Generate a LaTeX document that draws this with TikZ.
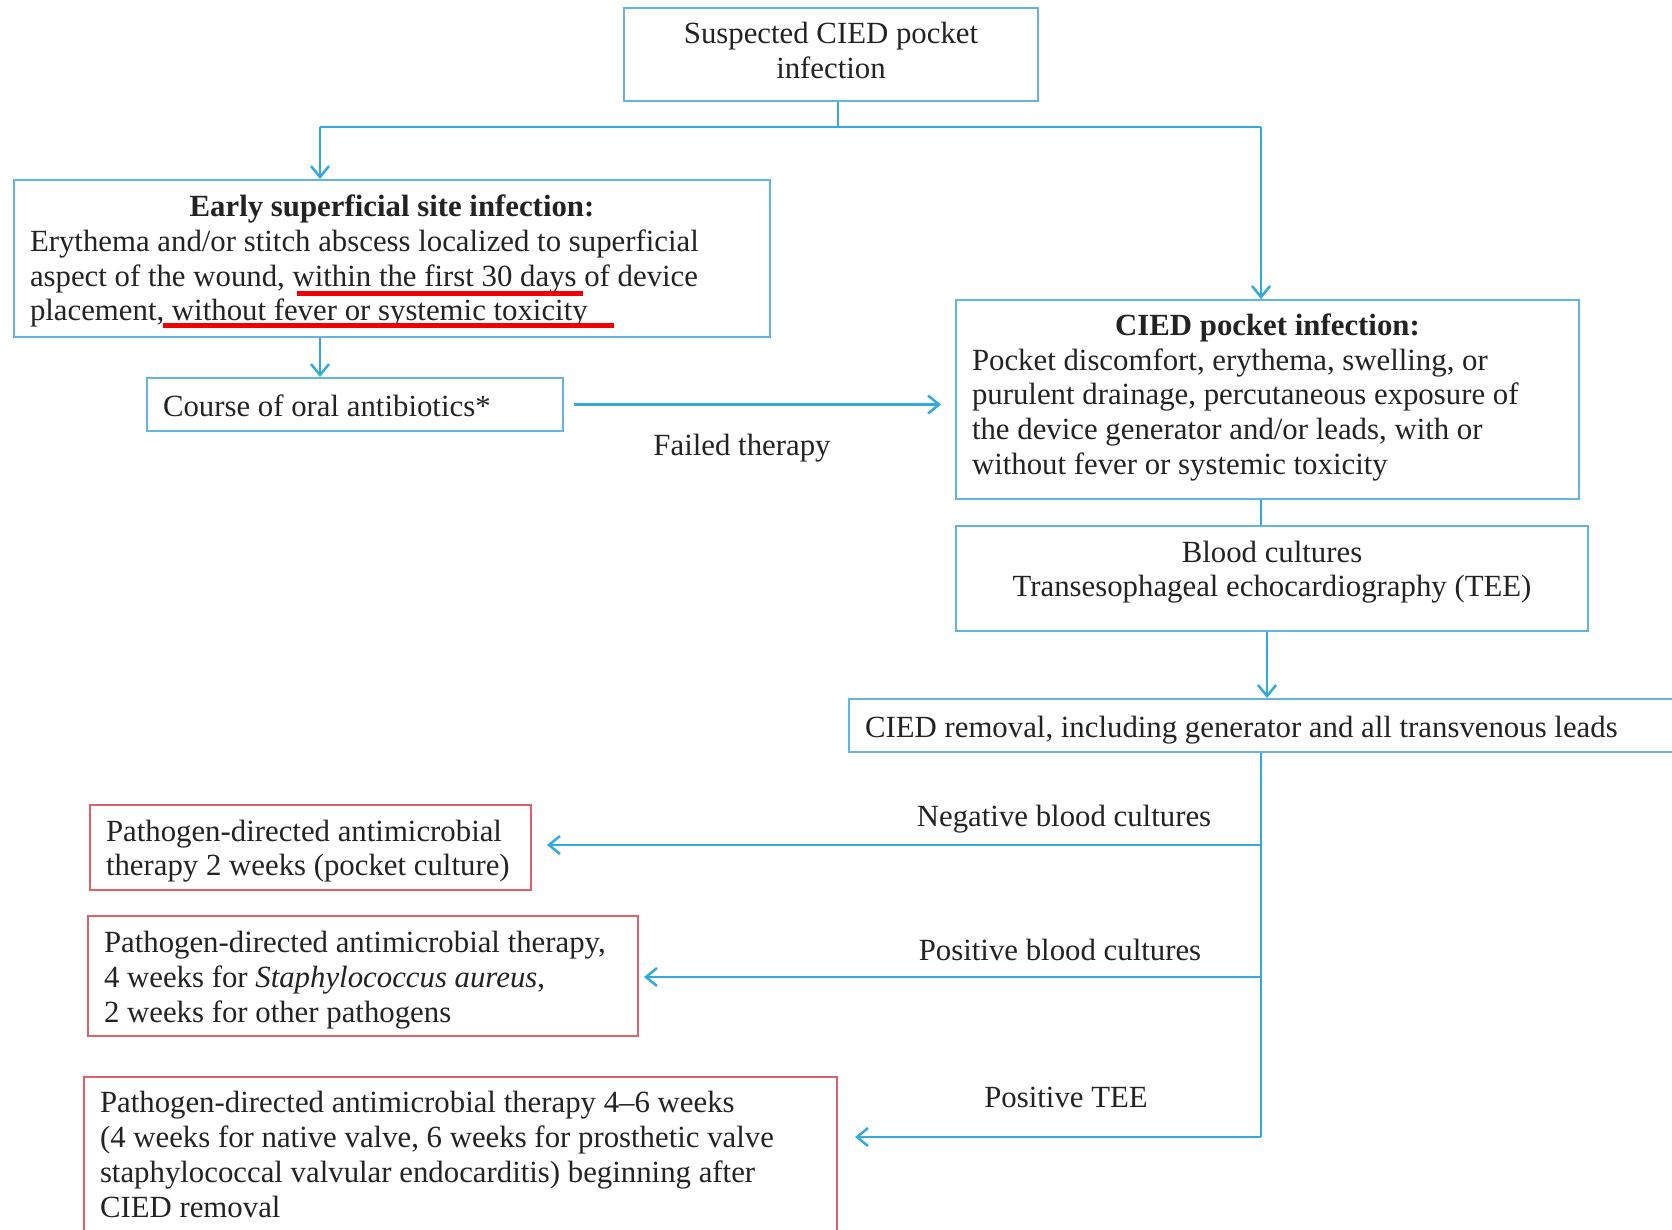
\documentclass[tikz,border=0pt]{standalone}
\usepackage{fontspec}
\setmainfont{Liberation Serif}
\usetikzlibrary{arrows.meta}
\definecolor{boxblue}{RGB}{100,180,225}
\definecolor{linkblue}{RGB}{50,170,225}
\definecolor{boxred}{RGB}{225,95,105}
\definecolor{ulred}{RGB}{240,0,0}
\definecolor{txt}{RGB}{35,35,35}
\newcommand{\tline}[1]{\mbox{\spaceskip=0pt\xspaceskip=0pt #1}}
\newcommand{\tcenter}[1]{\makebox[\hsize][c]{\spaceskip=0pt\xspaceskip=0pt #1}}
\begin{document}
\begin{tikzpicture}[x=1pt,y=-1pt,
 every node/.style={font=\fontsize{30.8}{34.8}\selectfont, text=txt},
 bbox/.style={draw=boxblue, line width=2pt, inner sep=0pt},
 rbox/.style={draw=boxred, line width=2pt, inner sep=0pt},
 btext/.style={inner sep=0pt, align=left},
 link/.style={draw=linkblue, line width=2.5pt},
 arr/.style={link, -{Straight Barb[length=11pt,width=18pt]}},
 lab/.style={inner sep=0pt},
 uline/.style={draw=ulred, line width=5pt}
]
\useasboundingbox (0,0) rectangle (1672,1229);
\fill[white] (0,0) rectangle (1672,1229);
\clip (0,0) rectangle (1672,1229);

% boxes
\node[bbox, minimum width=414pt, minimum height=93pt] (top) at (831,54) {};
\node[btext, align=center] (toptxt) at ([yshift=3.2pt]top.center) {Suspected CIED pocket\\infection};

\node[bbox, minimum width=756pt, minimum height=157pt] (early) at (392,258.5) {};
\node[btext, text width=724pt] (earlytxt) at ([yshift=-2.7pt]early.center)
 {\tcenter{\bfseries Early superficial site infection:}\\
  \tline{Erythema and/or stitch abscess localized to superficial}\\
  \tline{aspect of the wound, within the first 30 days of device}\\
  \tline{placement, without fever or systemic toxicity}};

\node[bbox, minimum width=416pt, minimum height=53pt] (course) at (355,404.5) {};
\node[btext, text width=384pt] (coursetxt) at ([yshift=-1pt]course.center) {\tline{Course of oral antibiotics*}};

\node[bbox, minimum width=623pt, minimum height=199pt] (pocket) at (1267.5,399.5) {};
\node[btext, text width=591pt] (pockettxt) at ([yshift=2.1pt]pocket.center)
 {\tcenter{\bfseries CIED pocket infection:}\\
  \tline{Pocket discomfort, erythema, swelling, or}\\
  \tline{purulent drainage, percutaneous exposure of}\\
  \tline{the device generator and/or leads, with or}\\
  \tline{without fever or systemic toxicity}};

\node[bbox, minimum width=632pt, minimum height=105pt] (blood) at (1272,578.5) {};
\node[btext, align=center] (bloodtxt) at ([yshift=6.3pt]blood.center)
 {Blood cultures\\Transesophageal echocardiography (TEE)};

\node[bbox, minimum width=851pt, minimum height=53pt] (removal) at (1274.5,725.5) {};
\node[btext, text width=819pt] (removaltxt) at ([yshift=-4.3pt]removal.center)
 {\tline{CIED removal, including generator and all transvenous leads}};

\node[rbox, minimum width=441pt, minimum height=85pt] (neg) at (310.5,847.5) {};
\node[btext, text width=409pt] (negtxt) at ([yshift=-3.7pt]neg.center)
 {\tline{Pathogen-directed antimicrobial}\\
  \tline{therapy 2 weeks (pocket culture)}};

\node[rbox, minimum width=550pt, minimum height=120pt] (posb) at (363,976) {};
\node[btext, text width=518pt] (posbtxt) at ([yshift=-4pt]posb.center)
 {\tline{Pathogen-directed antimicrobial therapy,}\\
  \tline{4 weeks for \textit{Staphylococcus aureus},}\\
  \tline{2 weeks for other pathogens}};

\node[rbox, minimum width=753pt, minimum height=155pt] (tee) at (460.5,1154.5) {};
\node[btext, text width=721pt] (teetxt) at (tee.center)
 {\tline{Pathogen-directed antimicrobial therapy 4–6 weeks}\\
  \tline{(4 weeks for native valve, 6 weeks for prosthetic valve}\\
  \tline{staphylococcal valvular endocarditis) beginning after}\\
  \tline{CIED removal}};

% labels
\node[lab] (failed) at (742,448.2) {Failed therapy};
\node[lab] (negl) at (1064,819.2) {Negative blood cultures};
\node[lab] (posl) at (1060,950) {Positive blood cultures};
\node[lab] (teel) at (1066,1097) {Positive TEE};

% underlines
\draw[uline] (297,293) -- (583,293);
\draw[uline] (163,325.5) -- (614,325.5);

% connectors
\coordinate (split) at (838,127);
\coordinate (lbr) at (320,127);
\coordinate (rbr) at (1261,127);
\coordinate (bx) at (1267,127);
\coordinate (t1) at (1261,845);
\coordinate (t2) at (1261,977);
\coordinate (t3) at (1261,1137);

\draw[link] (split |- top.south) -- (split);
\draw[link] (lbr) -- (rbr);
\draw[arr] (lbr) -- (lbr |- early.north);
\draw[arr] (rbr) -- (rbr |- pocket.north);
\draw[arr] (lbr |- early.south) -- (lbr |- course.north);
\draw[arr] ([xshift=10pt]course.east) -- ([xshift=-14pt]pocket.west |- course.east);
\draw[link] (rbr |- pocket.south) -- (rbr |- blood.north);
\draw[arr] (bx |- blood.south) -- (bx |- removal.north);
\draw[link] (rbr |- removal.south) -- (t3);
\draw[arr] (t1) -- ([xshift=15pt]t1 -| neg.east);
\draw[arr] (t2) -- ([xshift=5pt]t2 -| posb.east);
\draw[arr] (t3) -- ([xshift=17pt]t3 -| tee.east);
\end{tikzpicture}
\end{document}
